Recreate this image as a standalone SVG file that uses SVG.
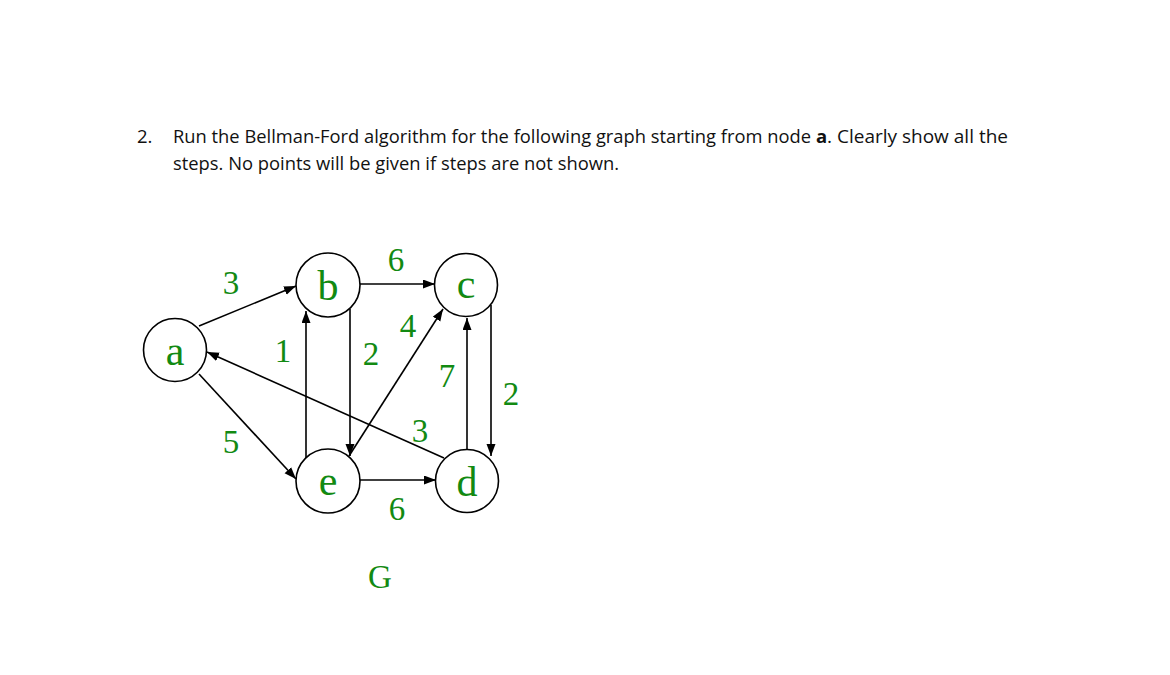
<svg xmlns="http://www.w3.org/2000/svg" width="1170" height="675" viewBox="0 0 1170 675">
<defs>
<marker id="arr" markerUnits="userSpaceOnUse" markerWidth="13" markerHeight="10" refX="12" refY="4.5" orient="auto">
<path d="M0,0 L12,4.5 L0,9 z" fill="#000"/>
</marker>
<style>
.q{font-family:"Open Sans","Liberation Sans",sans-serif;font-size:18.5px;fill:#111}
.n{fill:#fff;stroke:#000;stroke-width:1.6}
.lt{font-family:"Liberation Serif","DejaVu Serif",serif;font-size:42px;fill:#128a12;text-anchor:middle}
.w{font-family:"Liberation Serif","DejaVu Serif",serif;font-size:33px;fill:#128a12;text-anchor:middle}
.e{stroke:#000;stroke-width:1.6;fill:none;marker-end:url(#arr)}
</style>
</defs>
<rect width="1170" height="675" fill="#fff"/>
<g id="question">
<text class="q" x="137" y="143">2.</text>
<text class="q" x="173" y="143" textLength="638" lengthAdjust="spacingAndGlyphs">Run the Bellman-Ford algorithm for the following graph starting from node</text>
<text class="q" x="816" y="143" font-weight="bold">a</text>
<text class="q" x="827" y="143" textLength="181" lengthAdjust="spacingAndGlyphs">. Clearly show all the</text>
<text class="q" x="173" y="170" textLength="446" lengthAdjust="spacingAndGlyphs">steps. No points will be given if steps are not shown.</text>
</g>
<g id="edges">
<line class="e" x1="199" y1="326" x2="296" y2="286"/>
<line class="e" x1="360" y1="284" x2="435" y2="284"/>
<line class="e" x1="350" y1="309" x2="350" y2="456"/>
<line class="e" x1="306" y1="458" x2="306" y2="311"/>
<line class="e" x1="349" y1="456" x2="443" y2="309"/>
<line class="e" x1="444" y1="458" x2="207" y2="352"/>
<line class="e" x1="467" y1="449" x2="467" y2="318"/>
<line class="e" x1="491" y1="305" x2="491" y2="456"/>
<line class="e" x1="199" y1="374" x2="296" y2="479"/>
<line class="e" x1="360" y1="480" x2="436" y2="480"/>
</g>
<g id="node-a"><circle class="n" cx="175" cy="350" r="31.5"/><text class="lt" x="175" y="365">a</text></g>
<g id="node-b"><circle class="n" cx="328" cy="285" r="32"/><text class="lt" x="328" y="300">b</text></g>
<g id="node-c"><circle class="n" cx="466" cy="285" r="31.5"/><text class="lt" x="466" y="298">c</text></g>
<g id="node-e"><circle class="n" cx="328" cy="481" r="32"/><text class="lt" x="328" y="495">e</text></g>
<g id="node-d"><circle class="n" cx="467" cy="481" r="31.5"/><text class="lt" x="467" y="496">d</text></g>
<g id="weights">
<text class="w" x="231" y="294">3</text>
<text class="w" x="396" y="271">6</text>
<text class="w" x="408" y="337">4</text>
<text class="w" x="283" y="362">1</text>
<text class="w" x="371" y="365">2</text>
<text class="w" x="447" y="387">7</text>
<text class="w" x="511" y="405">2</text>
<text class="w" x="420" y="442">3</text>
<text class="w" x="231" y="453">5</text>
<text class="w" x="397" y="520">6</text>
</g>
<g id="caption"><text class="w" x="380" y="588">G</text></g>
</svg>
